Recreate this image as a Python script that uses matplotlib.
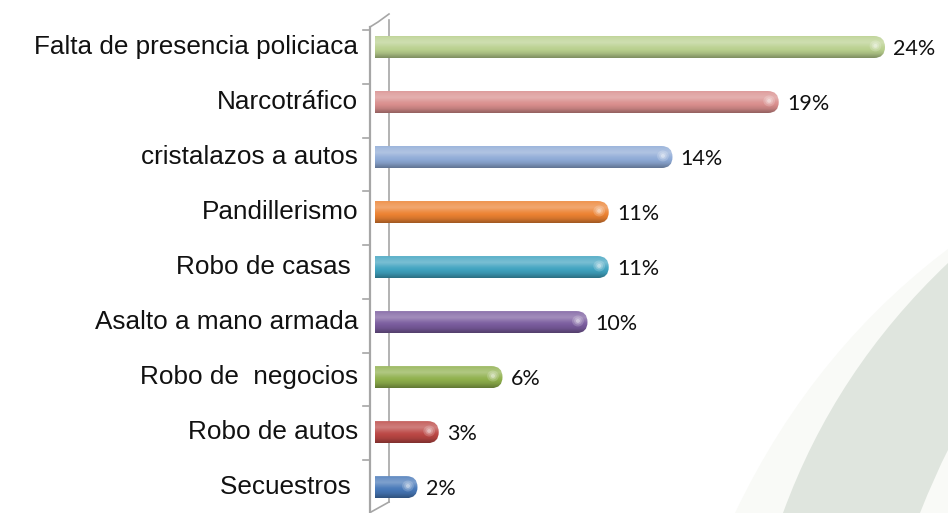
import numpy as np
import matplotlib.pyplot as plt
from matplotlib.colors import to_rgb
from matplotlib.patches import FancyBboxPatch, PathPatch, Ellipse
from matplotlib.path import Path

# data
categories = [
    "Falta de presencia policiaca",
    "Narcotráfico",
    "cristalazos a autos",
    "Pandillerismo",
    "Robo de casas ",
    "Asalto a mano armada",
    "Robo de  negocios",
    "Robo de autos",
    "Secuestros ",
]
values = [24, 19, 14, 11, 11, 10, 6, 3, 2]
colors = ["#b9d08e", "#d98e8d", "#8eaad6", "#ec8232", "#40a3c0",
          "#7a5c9e", "#8fb04c", "#bb4744", "#4778b8"]

W, H = 948, 513
fig = plt.figure(figsize=(W / 100, H / 100), dpi=100)

# background layer in pixel coords (swoosh + 3d wall)
bg = fig.add_axes([0, 0, 1, 1])
bg.set_xlim(0, W)
bg.set_ylim(H, 0)
bg.axis("off")

halo = Path([(960, 240), (815, 345), (735, 513), (960, 513), (960, 240)],
            [Path.MOVETO, Path.CURVE3, Path.CURVE3, Path.LINETO, Path.CLOSEPOLY])
bg.add_patch(PathPatch(halo, facecolor="#f9faf7", edgecolor="none"))
swoosh = Path([(948, 263), (835, 370), (783, 513), (920, 513),
               (935, 475), (948, 450), (948, 263)],
              [Path.MOVETO, Path.CURVE3, Path.CURVE3, Path.LINETO,
               Path.CURVE3, Path.CURVE3, Path.CLOSEPOLY])
bg.add_patch(PathPatch(swoosh, facecolor="#dfe5de", edgecolor="none"))

wall = "#a6a6a6"
bg.plot([370, 370], [27, 513], color=wall, lw=1.6)
bg.plot([389, 389], [20, 502], color=wall, lw=1.2)
bg.plot([370, 378, 389], [27, 22, 14], color=wall, lw=1.2)
bg.plot([389, 371], [502, 512], color=wall, lw=1.2)
for k in range(len(categories) + 1):
    yt = 30 + k * 53.75
    bg.plot([363, 370], [yt, yt], color=wall, lw=1.2)

# main axes
x0_px = 375
px_per_x = 21.25
ax = fig.add_axes([x0_px / W, 0, 1 - x0_px / W, (H - 19.5) / H])
ax.patch.set_alpha(0)
xmax = (W - x0_px) / px_per_x
ax.set_xlim(0, xmax)
ax.set_ylim(8.47, -0.5)
ax.axis("off")

h = 0.4
aspect = (1 / 55) / (1 / px_per_x)
r = 0.52
tp = [0, 0.12, 0.32, 0.55, 0.8, 1]
tv = [0.05, 0.2, 0.3, 0.05, -0.1, -0.32]
tt = np.linspace(0, 1, 64)
shade = np.interp(tt, tp, tv)

for i, (v, c) in enumerate(zip(values, colors)):
    base = np.array(to_rgb(c))
    img = np.empty((len(tt), 1, 3))
    for j, s in enumerate(shade):
        img[j, 0] = base + (1 - base) * s if s > 0 else base * (1 + s)
    left = -0.6
    box = FancyBboxPatch((left, i - h / 2), v - left, h,
                         boxstyle=f"round,pad=0,rounding_size={r}",
                         mutation_aspect=aspect, facecolor="none",
                         edgecolor="none", transform=ax.transData)
    ax.add_patch(box)
    im = ax.imshow(img, extent=(left, v, i + h / 2, i - h / 2),
                   aspect="auto", interpolation="bilinear", zorder=2)
    im.set_clip_path(box)
    # soft specular spot near the rounded end
    for k, a in zip([1.0, 0.65, 0.35], [0.18, 0.22, 0.35]):
        ax.add_patch(Ellipse((v - 0.45, i - 0.02), 0.55 * k, 0.2 * k,
                             facecolor="white", alpha=a, edgecolor="none",
                             zorder=3))
    ax.text(v + 0.38, i + 0.04, f"{v}%", va="center", ha="left",
            fontsize=15.5, family="Lato", color="#111111")
    ax.text(-0.8, i, categories[i], va="center", ha="right",
            fontsize=18.8, family="Liberation Sans", color="#111111",
            clip_on=False)

ax.set_xlim(0, xmax)
ax.set_ylim(8.47, -0.5)

fig.savefig("out.png", dpi=100)
